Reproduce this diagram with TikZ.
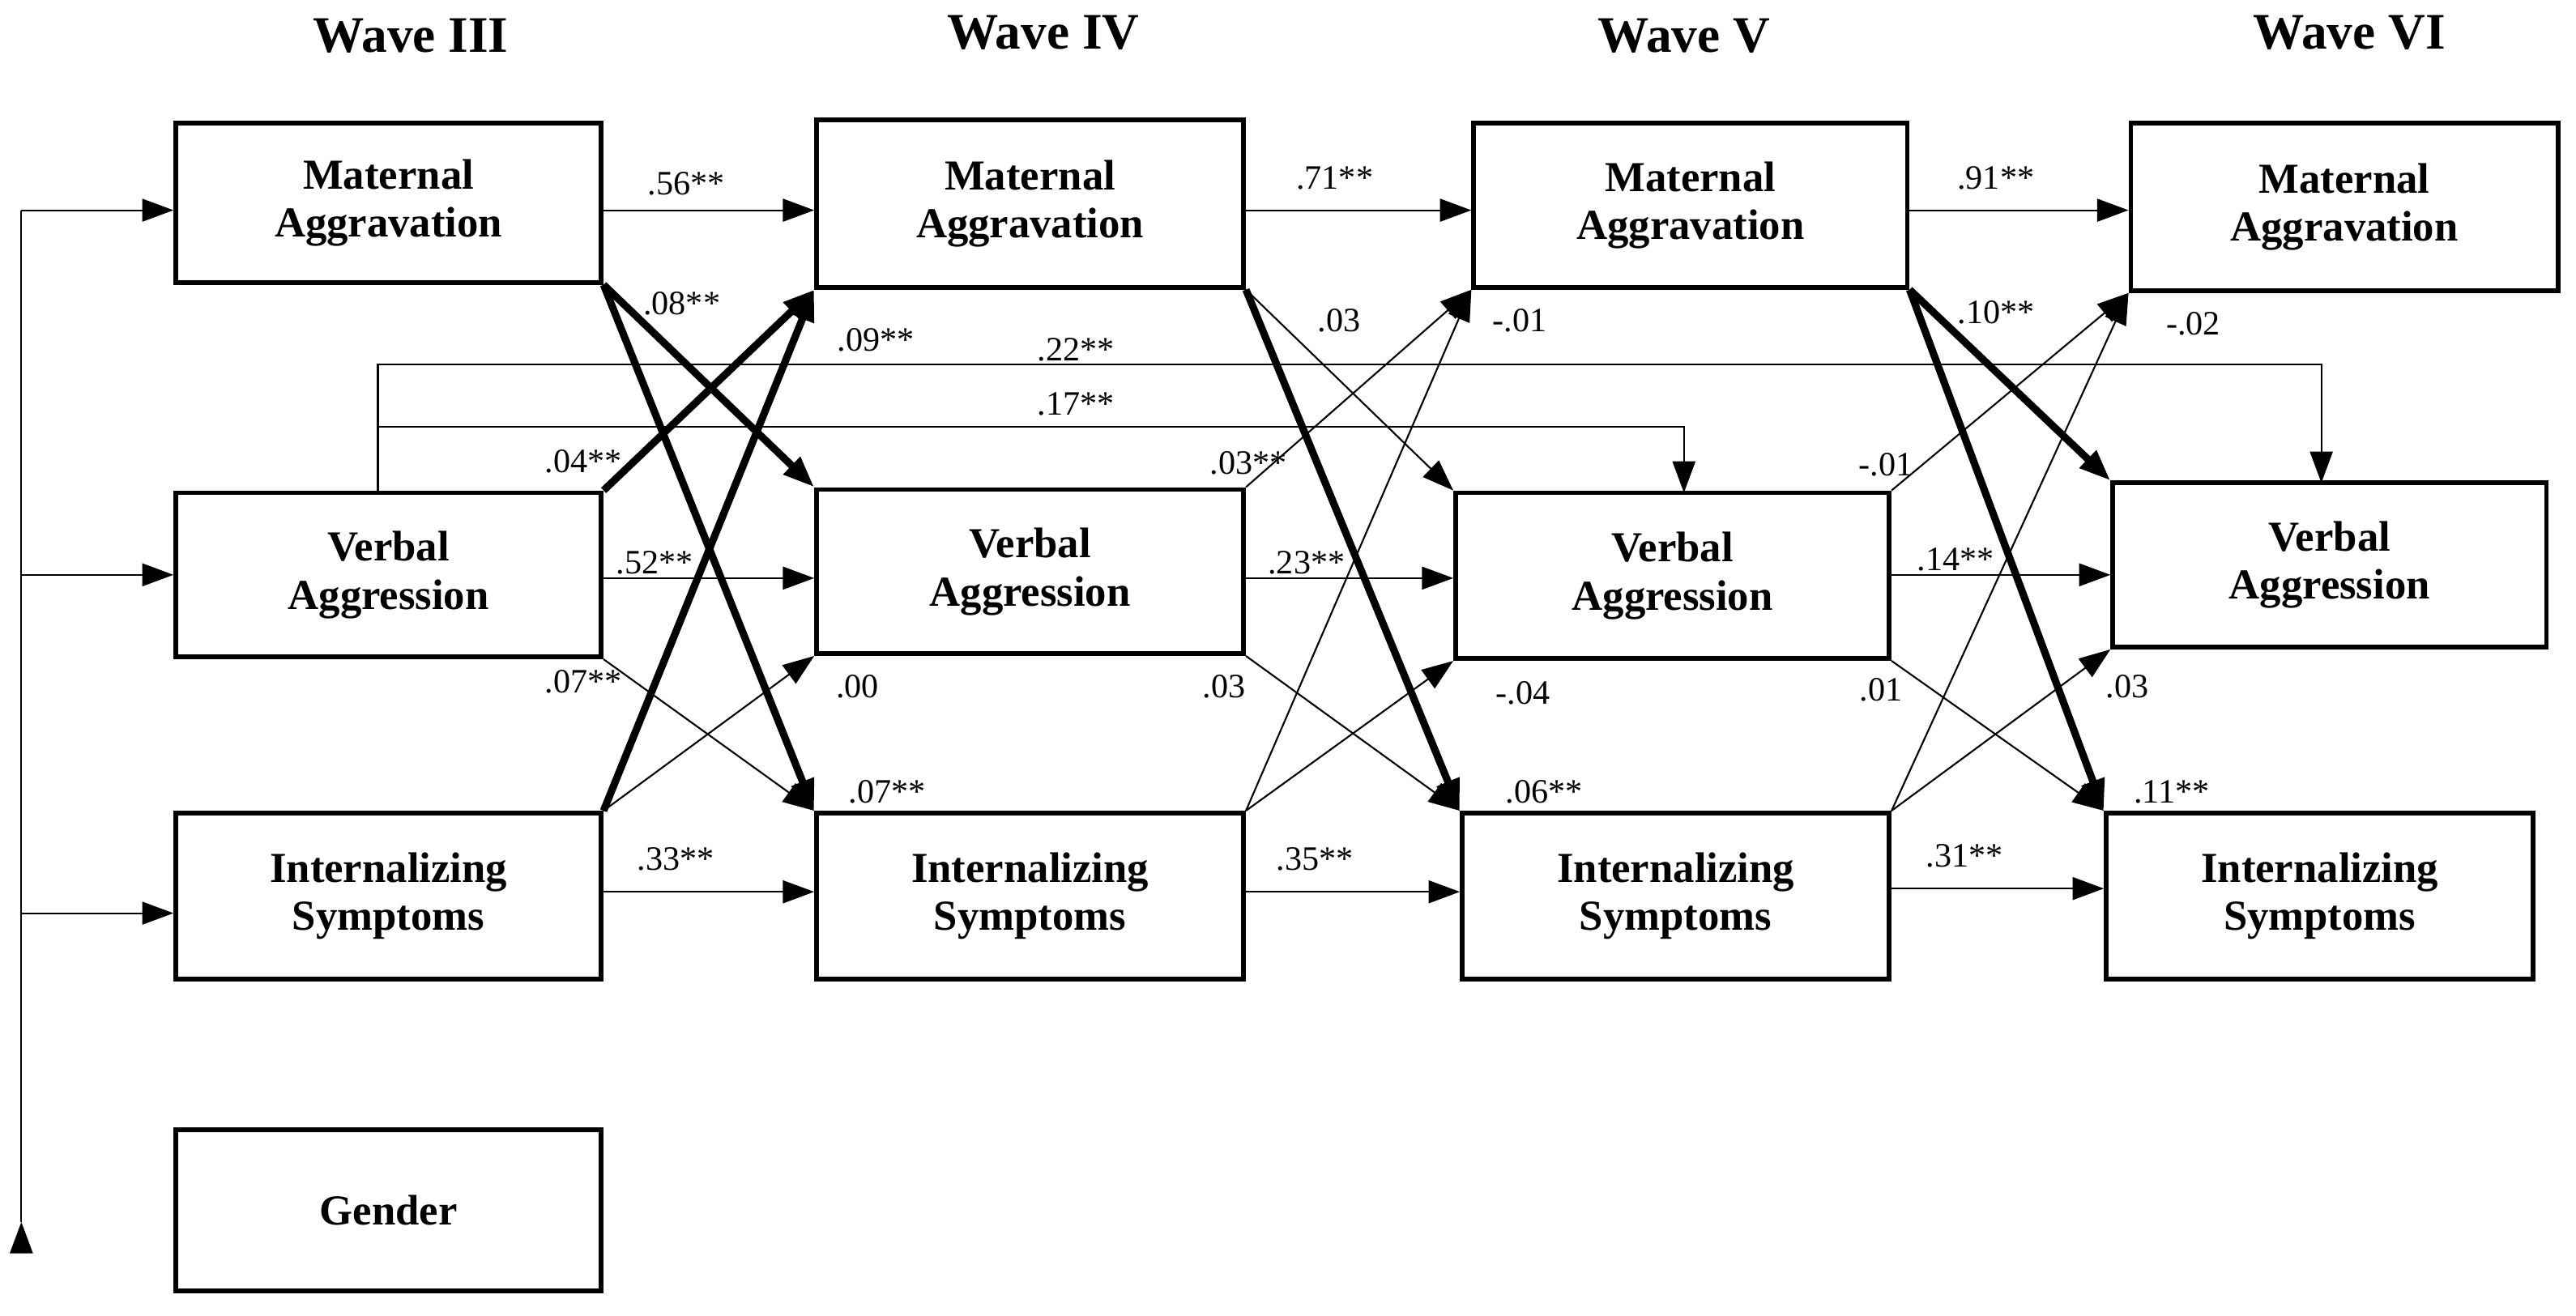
\documentclass[tikz,border=0pt]{standalone}
\usepackage{fontspec}
\setmainfont{Liberation Serif}
\usetikzlibrary{arrows.meta}
\begin{document}
\begin{tikzpicture}[x=0.02028cm,y=-0.02028cm,
 box/.style={draw,line width=1.6pt,inner sep=0pt,align=center,font=\fontsize{15}{17}\selectfont\bfseries},
 ar/.style={line width=0.6pt,-{Triangle[length=11pt,width=8pt]}},
 thk/.style={line width=2.6pt,-{Triangle[length=11pt,width=8pt]}},
 lb/.style={font=\fontsize{12}{14}\selectfont,inner sep=1pt},
 hd/.style={font=\fontsize{18}{20}\selectfont\bfseries}]
\useasboundingbox (0,0) rectangle (1568,801);
\newcommand\bx[6]{%
 \pgfmathsetmacro\bw{(#4-#2)*0.02028}\pgfmathsetmacro\bh{(#5-#3)*0.02028}%
 \node[box,minimum width=\bw cm,minimum height=\bh cm] (#1) at ({(#2+#4)/2},{(#3+#5)/2}) {#6};}
\node[hd] (h3) at (250,22) {Wave III};
\node[hd] (h4) at (635,20) {Wave IV};
\node[hd] (h5) at (1025,22) {Wave V};
\node[hd] (h6) at (1430,20) {Wave VI};
\bx{m3}{107}{75}{366}{172}{Maternal\\Aggravation}
\bx{v3}{107}{300}{366}{400}{Verbal\\Aggression}
\bx{i3}{107}{495}{366}{596}{Internalizing\\Symptoms}
\bx{g3}{107}{688}{366}{786}{Gender}
\bx{m4}{497}{73}{757}{175}{Maternal\\Aggravation}
\bx{v4}{497}{298}{757}{398}{Verbal\\Aggression}
\bx{i4}{497}{495}{757}{596}{Internalizing\\Symptoms}
\bx{m5}{897}{75}{1161}{175}{Maternal\\Aggravation}
\bx{v5}{886}{300}{1150}{401}{Verbal\\Aggression}
\bx{i5}{890}{495}{1150}{596}{Internalizing\\Symptoms}
\bx{m6}{1297}{75}{1557}{177}{Maternal\\Aggravation}
\bx{v6}{1286}{294}{1550}{394}{Verbal\\Aggression}
\bx{i6}{1282}{495}{1542}{596}{Internalizing\\Symptoms}
% gender bracket
\coordinate (gt) at (13,128); \coordinate (gb) at (13,744);
\draw[line width=0.6pt] (gt) -- (gb);
\draw[ar] (gt) -- (gt -| m3.west);
\draw[ar] (13,350) coordinate (g2) -- (g2 -| v3.west);
\draw[ar] (13,556) coordinate (g3) -- (g3 -| i3.west);
\draw[ar] (gb) -- (gb -| g3.west);
% horizontal
\draw[ar] (366,128) coordinate (a1) -- (a1 -| m4.west) node[lb,pos=0.4,above=4pt]{.56**};
\draw[ar] (757,128) coordinate (a2) -- (a2 -| m5.west) node[lb,pos=0.4,above=6pt]{.71**};
\draw[ar] (1161,128) coordinate (a3) -- (a3 -| m6.west) node[lb,pos=0.4,above=6pt]{.91**};
\draw[ar] (366,352) coordinate (b1) -- (b1 -| v4.west) node[lb,pos=0.25,above=0pt]{.52**};
\draw[ar] (757,352) coordinate (b2) -- (b2 -| v5.west) node[lb,pos=0.3,above=0pt]{.23**};
\draw[ar] (1150,350) coordinate (b3) -- (b3 -| v6.west) node[lb,pos=0.3,above=0pt]{.14**};
\draw[ar] (366,543) coordinate (c1) -- (c1 -| i4.west) node[lb,pos=0.35,above=6pt]{.33**};
\draw[ar] (757,543) coordinate (c2) -- (c2 -| i5.west) node[lb,pos=0.33,above=6pt]{.35**};
\draw[ar] (1150,541) coordinate (c3) -- (c3 -| i6.west) node[lb,pos=0.35,above=6pt]{.31**};
% cross III->IV
\draw[thk] (m3.south east) -- (v4.north west);
\draw[thk] (m3.south east) -- (i4.north west);
\draw[thk] (v3.north east) -- (m4.south west);
\draw[thk] (i3.north east) -- (m4.south west);
\draw[ar] (i3.north east) -- (v4.south west);
\draw[ar] (v3.south east) -- (i4.north west);
% IV->V
\draw[ar] (m4.south east) -- (v5.north west);
\draw[thk] (m4.south east) -- (i5.north west);
\draw[ar] (v4.north east) -- (m5.south west);
\draw[ar] (i4.north east) -- (m5.south west);
\draw[ar] (i4.north east) -- (v5.south west);
\draw[ar] (v4.south east) -- (i5.north west);
% V->VI
\draw[thk] (m5.south east) -- (v6.north west);
\draw[thk] (m5.south east) -- (i6.north west);
\draw[ar] (v5.north east) -- (m6.south west);
\draw[ar] (i5.north east) -- (m6.south west);
\draw[ar] (i5.north east) -- (v6.south west);
\draw[ar] (v5.south east) -- (i6.north west);
% long paths
\coordinate (l0) at (230,300);
\draw[ar] (l0) -- (230,222) -- (1413,222) -- (1413,294);
\draw[ar] (230,260) -- (1025,260) -- (1025,300);
\node[lb] (t22) at (655,213) {.22**};
\node[lb] (t17) at (655,246) {.17**};
% labels
\node[lb] at (415,185) {.08**};
\node[lb] at (533,207) {.09**};
\node[lb] at (355,281) {.04**};
\node[lb] at (355,415) {.07**};
\node[lb] at (522,418) {.00};
\node[lb] at (540,482) {.07**};
\node[lb] at (815,195) {.03};
\node[lb] at (760,282) {.03**};
\node[lb] at (925,195) {-.01};
\node[lb] at (745,418) {.03};
\node[lb] at (927,422) {-.04};
\node[lb] at (940,482) {.06**};
\node[lb] at (1215,190) {.10**};
\node[lb] at (1148,283) {-.01};
\node[lb] at (1335,197) {-.02};
\node[lb] at (1145,420) {.01};
\node[lb] at (1295,418) {.03};
\node[lb] at (1322,482) {.11**};
\end{tikzpicture}
\end{document}
